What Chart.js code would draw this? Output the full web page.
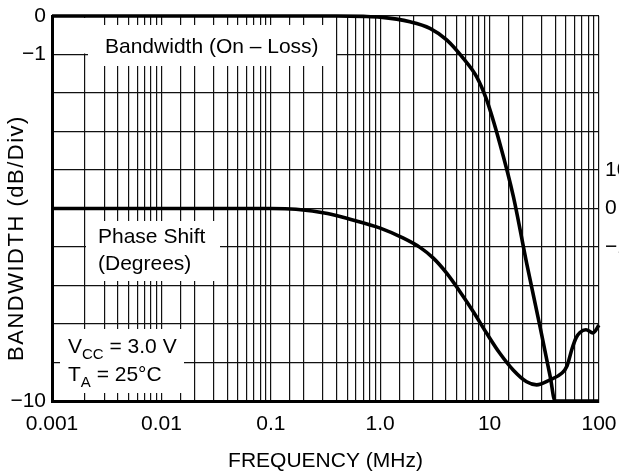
<!DOCTYPE html>
<html>
<head>
<meta charset="utf-8">
<script src="https://cdn.jsdelivr.net/npm/chart.js@4.4.1/dist/chart.umd.min.js"></script>
<style>
  html, body { margin: 0; padding: 0; background: #fff; }
  #wrap { width: 619px; height: 476px; }
</style>
</head>
<body>
<div id="wrap"><canvas id="chart" width="619" height="476"></canvas></div>
<script>
// Bandwidth (On - Loss) in dB
const bwFreq = [0.001, 0.01, 0.1, 0.4, 0.7, 1.0, 1.87, 2.85, 4.05, 5.75, 7.62, 9.40, 12.4, 16.5, 21.8, 28.9, 36.0, 39.6, 100];
const bwDb = [0, 0, 0, 0, -0.01, -0.03, -0.15, -0.32, -0.62, -1.10, -1.58, -2.18, -3.31, -4.69, -6.42, -8.07, -9.4, -10, -10];

// Phase shift in degrees (right-hand scale, 10 deg / div)
const phFreq = [0.001, 0.01, 0.1, 0.17, 0.33, 0.53, 1.0, 1.63, 2.31, 3.06, 4.05, 5.36, 7.10, 9.40, 12.4, 16.5, 21.8, 26.9, 35.6, 45.6, 51.0, 56.6, 61.7, 67, 76, 88, 100];
const phDeg = [0, 0, 0, -0.2, -1.3, -2.8, -5.1, -7.7, -10.1, -12.9, -16.8, -21.6, -26.8, -32.4, -37.6, -42.0, -45.0, -45.8, -44.5, -42.8, -40.9, -36.5, -33.6, -32.2, -31.5, -32.3, -30.3];

// tick labels
const xTicks = [0.001, 0.01, 0.1, 1, 10, 100];
const xTickLabels = ['0.001', '0.01', '0.1', '1.0', '10', '100'];
const yTicks = [0, -1, -10];
const yTickLabels = ['0', '\u22121', '\u221210'];
const phTicks = [10, 0, -10];
const phTickLabels = ['10', '0', '\u221210'];

const FONT = '"Liberation Sans", Arial, sans-serif';

// white label boxes that blank out the grid: [x1, y1, x2, y2]
const boxes = [[88, 25, 336, 66], [74, 18, 90, 53.5], [86, 221, 220, 281], [60, 329, 184, 393]];

function toPoints(xs, ys) {
    return xs.map((x, i) => ({ x: x, y: ys[i] }));
}

const notesPlugin = {
    id: 'notes',
    beforeDatasetsDraw(chart) {
        const ctx = chart.ctx;
        ctx.save();
        ctx.fillStyle = '#fff';
        boxes.forEach(b => ctx.fillRect(b[0], b[1], b[2] - b[0], b[3] - b[1]));
        ctx.restore();
    },
    afterDraw(chart) {
        const ctx = chart.ctx;
        const big = '21px ' + FONT;
        const small = '15px ' + FONT;
        ctx.save();
        ctx.fillStyle = '#000';
        ctx.textBaseline = 'alphabetic';
        ctx.textAlign = 'left';
        ctx.font = big;
        ctx.fillText('Bandwidth (On \u2013 Loss)', 105, 53);
        ctx.fillText('Phase Shift', 98, 243);
        ctx.fillText('(Degrees)', 98, 270);

        // V_CC = 3.0 V
        let x = 68;
        ctx.font = big;
        ctx.fillText('V', x, 353);
        x += ctx.measureText('V').width;
        ctx.font = small;
        ctx.fillText('CC', x, 359);
        x += ctx.measureText('CC').width;
        ctx.font = big;
        ctx.fillText(' = 3.0 V', x, 353);

        // T_A = 25°C
        x = 68;
        ctx.fillText('T', x, 381);
        x += ctx.measureText('T').width;
        ctx.font = small;
        ctx.fillText('A', x, 387);
        x += ctx.measureText('A').width;
        ctx.font = big;
        ctx.fillText(' = 25\u00b0C', x, 381);

        // right-hand phase labels, cut off by the page edge
        const y1 = chart.scales.y1;
        ctx.textBaseline = 'middle';
        phTicks.forEach((v, i) => {
            ctx.fillText(phTickLabels[i], chart.chartArea.right + 6, y1.getPixelForValue(v));
        });

        // y axis title
        ctx.translate(23, 238);
        ctx.rotate(-Math.PI / 2);
        ctx.textAlign = 'center';
        ctx.textBaseline = 'alphabetic';
        ctx.font = '22px ' + FONT;
        ctx.letterSpacing = '1.5px';
        ctx.fillText('BANDWIDTH (dB/Div)', 0, 0);
        ctx.restore();
    }
};

const ctx = document.getElementById('chart').getContext('2d');
new Chart(ctx, {
    type: 'line',
    data: {
        datasets: [{
            label: 'Bandwidth',
            data: toPoints(bwFreq, bwDb),
            yAxisID: 'y',
            borderColor: '#000',
            borderWidth: 3.6,
            pointRadius: 0,
            cubicInterpolationMode: 'monotone',
            clip: 4
        }, {
            label: 'Phase Shift',
            data: toPoints(phFreq, phDeg),
            yAxisID: 'y1',
            borderColor: '#000',
            borderWidth: 3.6,
            pointRadius: 0,
            cubicInterpolationMode: 'monotone',
            clip: 4
        }]
    },
    options: {
        responsive: false,
        animation: false,
        devicePixelRatio: 1,
        layout: { padding: { left: 0, right: 20, top: 16, bottom: 0 } },
        plugins: {
            legend: { display: false },
            tooltip: { enabled: false }
        },
        scales: {
            x: {
                type: 'logarithmic',
                min: 0.001,
                max: 100,
                afterFit: (scale) => {
                    scale.height = 75;
                    scale.paddingLeft = 0;
                    scale.paddingRight = 0;
                },
                grid: { color: '#111', lineWidth: 1.2, drawTicks: false },
                border: { color: '#000', width: 3 },
                ticks: {
                    autoSkip: false,
                    maxRotation: 0,
                    padding: 11,
                    color: '#000',
                    font: { family: FONT, size: 21 },
                    callback: (value) => {
                        const i = xTicks.findIndex(t => Math.abs(t - value) < t * 1e-6);
                        return i >= 0 ? xTickLabels[i] : '';
                    }
                },
                title: {
                    display: true,
                    text: 'FREQUENCY (MHz)',
                    color: '#000',
                    font: { family: FONT, size: 21 },
                    padding: { top: 6, bottom: 2 }
                }
            },
            y: {
                type: 'linear',
                min: -10,
                max: 0,
                afterFit: (scale) => {
                    scale.width = 52;
                    scale.paddingTop = 0;
                    scale.paddingBottom = 0;
                },
                grid: { color: '#111', lineWidth: 1.2, drawTicks: false },
                border: { color: '#000', width: 3 },
                ticks: {
                    stepSize: 1,
                    autoSkip: false,
                    padding: 6,
                    color: '#000',
                    font: { family: FONT, size: 21 },
                    callback: (value) => {
                        const i = yTicks.indexOf(value);
                        return i >= 0 ? yTickLabels[i] : '';
                    }
                }
            },
            y1: {
                type: 'linear',
                position: 'right',
                display: false,
                min: -50,
                max: 50
            }
        }
    },
    plugins: [notesPlugin]
});
</script>
</body>
</html>
